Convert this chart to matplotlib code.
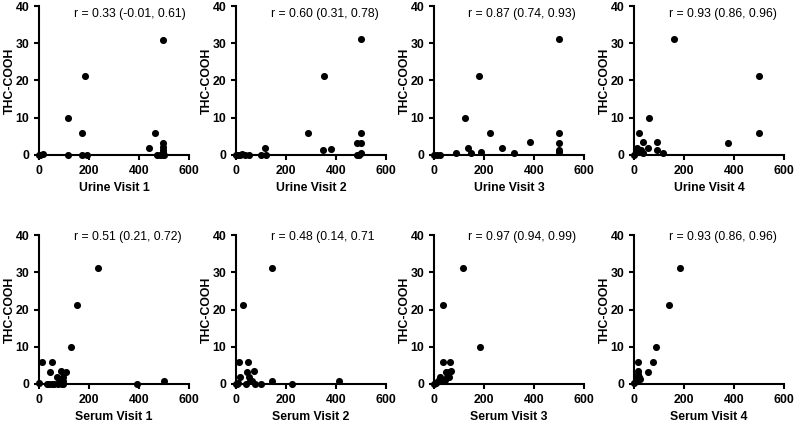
import matplotlib
matplotlib.use("Agg")
import matplotlib.pyplot as plt

plt.rcParams['font.family'] = ['Liberation Sans', 'DejaVu Sans']
plt.rcParams['font.size'] = 8.8

# urine panels
urine1_x = [0, 5, 15, 117, 117, 184, 173, 173, 193, 497, 441, 464, 473, 484, 497, 497, 497, 497, 497, 500]
urine1_y = [0, 0, 0.3, 10, 0, 21.1, 5.9, 0, 0, 31, 1.9, 5.9, 0, 0, 3.3, 2.2, 1.3, 0.7, 0, 0]

urine2_x = [0, 8, 17, 24, 35, 50, 98, 115, 120, 289, 351, 348, 379, 500, 482, 500, 500, 485, 500, 493]
urine2_y = [0, 0, 0, 0.3, 0, 0, 0, 2, 0, 6, 21.2, 1.25, 1.7, 31.2, 3.3, 3.3, 6, 0, 0.6, 0]

urine3_x = [0, 13, 23, 90, 123, 136, 147, 180, 187, 223, 273, 320, 385, 500, 500, 500, 500, 500]
urine3_y = [0, 0, 0, 0.45, 10, 1.8, 0.45, 21.2, 0.7, 6, 1.9, 0.6, 3.4, 31.2, 6, 3.3, 1.3, 0.7]

urine4_x = [0, 7, 13, 17, 21, 27, 35, 35, 55, 61, 91, 93, 117, 161, 377, 500, 500]
urine4_y = [0.1, 0.7, 1.8, 0.9, 6, 1.3, 3.4, 0.4, 1.9, 10, 3.4, 1.25, 0.6, 31.2, 3.2, 21.2, 6]

# serum panels
serum1_x = [0, 11, 44, 53, 31, 41, 51, 61, 71, 77, 88, 91, 97, 97, 107, 97, 81, 128, 151, 235, 393, 500]
serum1_y = [0.3, 6, 3.2, 6, 0, 0, 0, 0, 1.8, 0, 3.6, 0, 0.9, 2, 3.2, 0, 0.45, 10, 21.2, 31.2, 0, 0.7]

serum2_x = [0, 4, 8, 11, 15, 28, 40, 44, 47, 51, 55, 64, 71, 75, 100, 142, 142, 222, 412]
serum2_y = [0, 0, 0.3, 6, 2, 21.2, 0, 3.2, 6, 2, 0.7, 0.9, 3.6, 0, 0, 31.2, 0.8, 0, 0.7]

serum3_x = [0, 10, 17, 23, 29, 36, 36, 43, 49, 53, 59, 63, 67, 60, 118, 184]
serum3_y = [0, 0.4, 0.7, 2, 0.9, 21.2, 6, 1.1, 3.2, 1.8, 2, 6, 3.6, 3.2, 31.2, 10]

serum4_x = [0, 7, 11, 15, 17, 20, 24, 15, 55, 75, 88, 140, 185]
serum4_y = [0.3, 0.7, 2, 3.6, 6, 2, 1.3, 2.7, 3.2, 6, 10, 21.2, 31.2]

xs = [urine1_x, urine2_x, urine3_x, urine4_x, serum1_x, serum2_x, serum3_x, serum4_x]
ys = [urine1_y, urine2_y, urine3_y, urine4_y, serum1_y, serum2_y, serum3_y, serum4_y]
xlabels = ["Urine Visit 1", "Urine Visit 2", "Urine Visit 3", "Urine Visit 4",
           "Serum Visit 1", "Serum Visit 2", "Serum Visit 3", "Serum Visit 4"]
r_texts = ["r = 0.33 (-0.01, 0.61)", "r = 0.60 (0.31, 0.78)", "r = 0.87 (0.74, 0.93)",
           "r = 0.93 (0.86, 0.96)", "r = 0.51 (0.21, 0.72)", "r = 0.48 (0.14, 0.71",
           "r = 0.97 (0.94, 0.99)", "r = 0.93 (0.86, 0.96)"]

fig = plt.figure(figsize=(7.95, 4.23), dpi=100)
lefts = [0.0491, 0.2969, 0.5459, 0.7975]
bottoms = [0.6336, 0.0922]
w, h = 0.1887, 0.3522

for i in range(8):
    row, col = divmod(i, 4)
    ax = fig.add_axes([lefts[col], bottoms[row], w, h])
    ax.scatter(xs[i], ys[i], s=26, color='black', clip_on=False, zorder=3, linewidths=0)
    ax.set_xlim(0, 600)
    ax.set_ylim(0, 40)
    ax.set_xticks([0, 200, 400, 600])
    ax.set_yticks([0, 10, 20, 30, 40])
    for s in ['top', 'right']:
        ax.spines[s].set_visible(False)
    for s in ['left', 'bottom']:
        ax.spines[s].set_linewidth(1.5)
    ax.tick_params(width=1.5, length=3.5, labelsize=8.8)
    for lab in ax.get_xticklabels() + ax.get_yticklabels():
        lab.set_fontweight('bold')
    ax.set_xlabel(xlabels[i], fontweight='bold', fontsize=8.8)
    ax.set_ylabel("THC-COOH", fontweight='bold', fontsize=8.8)
    ax.yaxis.set_label_coords(-0.155, 0.5)
    ty = 37.9 if row == 0 else 39.5
    ax.text(138, ty, r_texts[i], ha='left', va='center', fontsize=8.8)

fig.savefig("out.png", dpi=100)
